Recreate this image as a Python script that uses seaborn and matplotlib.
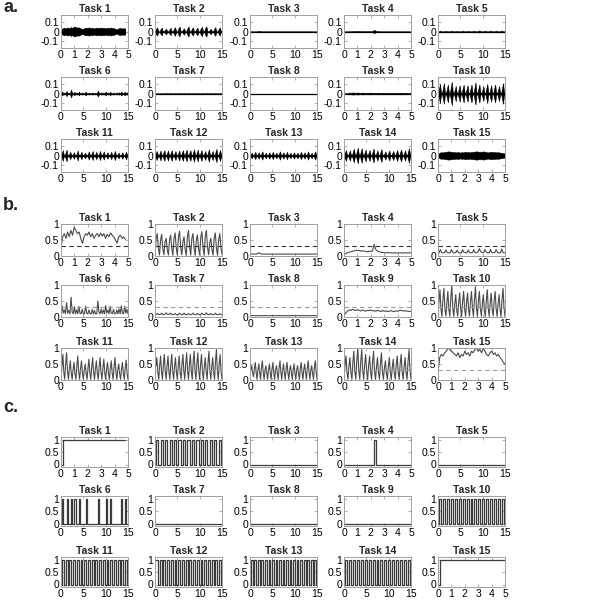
import numpy as np
import matplotlib
matplotlib.use("Agg")
import matplotlib.pyplot as plt
import seaborn as sns

sns.set_theme(style="white")
plt.rcParams['font.family'] = ['Liberation Sans', 'DejaVu Sans']

# ---------------- data ----------------
TASKS = [f"Task {i}" for i in range(1, 16)]
DURATION = [5, 15, 15, 5, 15, 15, 15, 15, 5, 15, 15, 15, 15, 15, 5]
END_TIME = [4.8, 15, 15, 5, 15, 15, 15, 15, 5, 15, 15, 15, 15, 15, 5]
THRESHOLD = [0.3] * 15

B1 = [0.25, 0.6, 0.7, 0.55, 0.75, 0.6, 0.8, 0.65, 0.9, 0.8, 0.7, 0.75, 0.55, 0.4, 0.6, 0.7, 0.65, 0.75, 0.6, 0.7,
      0.55, 0.65, 0.7, 0.6, 0.72, 0.62, 0.7, 0.55, 0.68, 0.6, 0.72, 0.65, 0.6, 0.5, 0.4, 0.6, 0.65, 0.55, 0.6, 0.52]
B2 = [0.05, 0.55, 0.7, 0.25, 0.03, 0.5, 0.68, 0.22, 0.04, 0.45, 0.55, 0.2, 0.03, 0.5, 0.65, 0.25, 0.02, 0.55, 0.72, 0.26,
      0.03, 0.6, 0.78, 0.25, 0.04, 0.45, 0.6, 0.2, 0.02, 0.6, 0.8, 0.28, 0.03, 0.55, 0.7, 0.25, 0.02, 0.5, 0.66, 0.22,
      0.03, 0.6, 0.76, 0.26, 0.02, 0.62, 0.8, 0.27, 0.04, 0.42, 0.55, 0.2, 0.03, 0.55, 0.72, 0.25, 0.02, 0.5, 0.7, 0.28, 0.05]
B3 = [0.06, 0.06, 0.06, 0.06, 0.1, 0.06, 0.06, 0.06, 0.06, 0.06, 0.06, 0.06, 0.06, 0.06, 0.06, 0.06,
      0.06, 0.06, 0.06, 0.06, 0.06, 0.06, 0.06, 0.06, 0.06, 0.06, 0.06, 0.06, 0.06, 0.06, 0.06]
B4 = [0.04, 0.08, 0.1, 0.12, 0.13, 0.15, 0.16, 0.17, 0.18, 0.17, 0.16, 0.15, 0.16, 0.14, 0.13, 0.15, 0.14, 0.16, 0.36, 0.2,
      0.15, 0.13, 0.12, 0.11, 0.1, 0.1, 0.11, 0.1, 0.1, 0.09, 0.1, 0.1, 0.09, 0.1, 0.1, 0.09, 0.1, 0.1, 0.09, 0.1, 0.1]
B5 = [0.08, 0.1, 0.2, 0.12, 0.1, 0.1, 0.11, 0.19, 0.12, 0.1, 0.1, 0.1, 0.2, 0.13, 0.1, 0.1, 0.11, 0.18, 0.12, 0.1,
      0.1, 0.1, 0.2, 0.12, 0.11, 0.1, 0.1, 0.19, 0.12, 0.1, 0.1, 0.11, 0.2, 0.12, 0.1, 0.11, 0.13, 0.23, 0.15, 0.12,
      0.1, 0.11, 0.2, 0.14, 0.1, 0.1, 0.1, 0.21, 0.12, 0.1, 0.1, 0.11, 0.2, 0.13, 0.1, 0.1, 0.1, 0.22, 0.12, 0.1, 0.1]
B6 = [0.05, 0.35, 0.12, 0.22, 0.1, 0.45, 0.12, 0.2, 0.1, 0.62, 0.15, 0.1, 0.32, 0.1, 0.22, 0.1, 0.33, 0.12, 0.1, 0.24,
      0.1, 0.1, 0.34, 0.12, 0.1, 0.22, 0.1, 0.1, 0.24, 0.1, 0.2, 0.1, 0.1, 0.5, 0.15, 0.1, 0.25, 0.1, 0.22, 0.1,
      0.36, 0.12, 0.22, 0.1, 0.33, 0.12, 0.1, 0.24, 0.1, 0.1, 0.22, 0.1, 0.25, 0.1, 0.35, 0.12, 0.1, 0.34, 0.12, 0.24, 0.1]
B7 = [0.05, 0.08, 0.11, 0.08, 0.07, 0.08, 0.12, 0.08, 0.07, 0.09, 0.13, 0.09, 0.08, 0.09, 0.12, 0.08, 0.07,
      0.08, 0.11, 0.08, 0.07, 0.08, 0.12, 0.09, 0.07, 0.08, 0.12, 0.08, 0.07, 0.08, 0.11, 0.08, 0.07,
      0.08, 0.12, 0.08, 0.07, 0.08, 0.11, 0.08, 0.07, 0.08, 0.12, 0.08, 0.07, 0.09, 0.13, 0.08, 0.07,
      0.08, 0.11, 0.08, 0.07, 0.08, 0.12, 0.08, 0.07, 0.08, 0.1, 0.08, 0.07]
B8 = [0.04, 0.045, 0.04, 0.04, 0.045, 0.04, 0.04, 0.045, 0.04, 0.04, 0.045, 0.04, 0.04, 0.045, 0.04, 0.04,
      0.045, 0.04, 0.04, 0.045, 0.04, 0.04, 0.045, 0.04, 0.04, 0.045, 0.04, 0.04, 0.045, 0.04, 0.04]
B9 = [0.05, 0.12, 0.18, 0.22, 0.2, 0.24, 0.22, 0.2, 0.23, 0.21, 0.19, 0.22, 0.2, 0.18, 0.21, 0.2, 0.22, 0.19, 0.2, 0.18,
      0.21, 0.19, 0.17, 0.2, 0.18, 0.19, 0.17, 0.18, 0.2, 0.18, 0.17, 0.19, 0.18, 0.2, 0.21, 0.19, 0.2, 0.18, 0.19, 0.17, 0.18]
B10 = [0.02, 0.5, 0.85, 0.25, 0.02, 0.55, 0.9, 0.27, 0.03, 0.45, 0.8, 0.24, 0.02, 0.6, 1.0, 0.28, 0.02, 0.4, 0.7, 0.22,
       0.03, 0.45, 0.75, 0.25, 0.02, 0.5, 0.8, 0.26, 0.02, 0.45, 0.75, 0.23, 0.03, 0.5, 0.8, 0.26, 0.02, 0.55, 0.95, 0.28,
       0.02, 0.5, 0.8, 0.25, 0.03, 0.4, 0.7, 0.22, 0.02, 0.5, 0.85, 0.27, 0.02, 0.45, 0.75, 0.24, 0.03, 0.5, 0.8, 0.26,
       0.02, 0.42, 0.7, 0.23, 0.02, 0.55, 0.9, 0.28, 0.02]
B11 = [0.03, 0.45, 0.8, 0.25, 0.02, 0.5, 0.85, 0.27, 0.02, 0.35, 0.6, 0.22, 0.02, 0.33, 0.55, 0.2, 0.02, 0.42, 0.75, 0.26,
       0.02, 0.35, 0.6, 0.22, 0.02, 0.32, 0.5, 0.2, 0.02, 0.38, 0.65, 0.24, 0.02, 0.4, 0.7, 0.25, 0.02, 0.35, 0.6, 0.22,
       0.02, 0.4, 0.7, 0.25, 0.02, 0.37, 0.65, 0.23, 0.02, 0.33, 0.55, 0.2, 0.02, 0.35, 0.6, 0.22, 0.02, 0.4, 0.7, 0.25,
       0.02, 0.32, 0.5, 0.2, 0.02, 0.33, 0.55, 0.21, 0.02, 0.36, 0.62, 0.22, 0.02]
B12 = [0.35, 0.45, 0.7, 0.25, 0.02, 0.45, 0.75, 0.26, 0.02, 0.5, 0.8, 0.27, 0.02, 0.45, 0.75, 0.25, 0.02, 0.5, 0.8, 0.27,
       0.02, 0.42, 0.7, 0.24, 0.02, 0.45, 0.75, 0.25, 0.02, 0.5, 0.8, 0.27, 0.02, 0.52, 0.85, 0.28, 0.02, 0.5, 0.8, 0.27,
       0.02, 0.55, 0.9, 0.28, 0.02, 0.52, 0.85, 0.28, 0.02, 0.5, 0.8, 0.27, 0.02, 0.42, 0.7, 0.24, 0.02, 0.55, 0.9, 0.28,
       0.02, 0.42, 0.7, 0.24, 0.02, 0.58, 0.95, 0.29, 0.02, 0.5, 0.8, 0.27, 0.02]
B13 = [0.2, 0.32, 0.45, 0.22, 0.1, 0.35, 0.55, 0.23, 0.02, 0.32, 0.5, 0.22, 0.02, 0.38, 0.6, 0.25, 0.02, 0.31, 0.45, 0.2,
       0.02, 0.32, 0.5, 0.22, 0.02, 0.35, 0.55, 0.23, 0.02, 0.31, 0.45, 0.2, 0.02, 0.38, 0.6, 0.25, 0.02, 0.32, 0.5, 0.22,
       0.02, 0.35, 0.55, 0.23, 0.02, 0.31, 0.45, 0.2, 0.02, 0.32, 0.5, 0.22, 0.02, 0.31, 0.45, 0.2, 0.02, 0.35, 0.55, 0.23,
       0.02, 0.32, 0.5, 0.22, 0.02, 0.38, 0.6, 0.25, 0.02, 0.31, 0.45, 0.2, 0.02, 0.38, 0.6, 0.25, 0.02]
B14 = [0.02, 0.45, 0.75, 0.25, 0.02, 0.42, 0.7, 0.24, 0.02, 0.55, 0.9, 0.27, 0.02, 0.6, 1.0, 0.28, 0.02, 0.58, 0.95, 0.28,
       0.02, 0.5, 0.8, 0.26, 0.02, 0.45, 0.75, 0.25, 0.02, 0.55, 0.9, 0.27, 0.02, 0.42, 0.7, 0.24, 0.02, 0.52, 0.85, 0.26,
       0.02, 0.36, 0.6, 0.22, 0.02, 0.42, 0.7, 0.24, 0.02, 0.4, 0.65, 0.23, 0.02, 0.45, 0.75, 0.25, 0.02, 0.5, 0.8, 0.26,
       0.02, 0.42, 0.7, 0.24, 0.02, 0.58, 0.95, 0.28, 0.02]
B15 = [0.25, 0.7, 0.8, 0.75, 0.85, 0.9, 1.0, 0.95, 0.9, 0.85, 0.8, 0.75, 0.85, 0.7, 0.8, 0.75, 0.9, 0.8, 0.85, 0.75,
       0.9, 0.85, 0.95, 1.0, 0.9, 0.95, 0.85, 1.0, 0.9, 0.8, 0.75, 0.85, 0.9, 0.8, 0.85, 0.75, 0.8, 0.7, 0.65, 0.55, 0.5]
B_SERIES = [B1, B2, B3, B4, B5, B6, B7, B8, B9, B10, B11, B12, B13, B14, B15]

# raw-signal envelope (panel a) = gain * max(b - floor, 0)
A_GAIN = [0.06, 0.1, 0.2, 0.07, 0.12, 0.08, 0.12, 0.0, 0.08, 0.15, 0.09, 0.09, 0.1, 0.1, 0.045]
A_FLOOR = [0.0, 0.25, 0.06, 0.1, 0.12, 0.08, 0.08, 1.0, 0.1, 0.15, 0.15, 0.15, 0.15, 0.15, 0.0]

# ---------------- layout ----------------
W, H = 600, 612
LEFTS = [61, 155, 250, 344, 438]
AX_W = 67
ROWS = {"a": ([15, 77, 139], 33), "b": ([224, 285, 348], 32), "c": ([437, 496, 557], 30)}
LABEL_Y = {"a": 8, "b": 206, "c": 407}
EDGE = "#a0a0a0"

fig = plt.figure(figsize=(W / 100, H / 100), dpi=100)


def make_ax(panel, k):
    tops, h = ROWS[panel]
    r, c = divmod(k, 5)
    ax = fig.add_axes([LEFTS[c] / W, 1 - (tops[r] + h) / H, AX_W / W, h / H])
    for s in ax.spines.values():
        s.set_color(EDGE)
        s.set_linewidth(0.7)
        s.set_visible(True)
    ax.set_facecolor("white")
    ax.tick_params(direction="in", length=2, width=0.6, color=EDGE, labelsize=7.5,
                   labelcolor="black", pad=1.5, top=True, right=True, bottom=True, left=True)
    dur = DURATION[k]
    ax.set_xlim(0, dur)
    ax.set_xticks(list(range(0, 6)) if dur == 5 else [0, 5, 10, 15])
    ax.set_xticklabels([str(v) for v in (range(0, 6) if dur == 5 else [0, 5, 10, 15])])
    ax.set_title(TASKS[k], fontsize=7.5, fontweight="bold", pad=2)
    ax.grid(False)
    return ax


for k in range(15):
    b = np.array(B_SERIES[k], dtype=float)
    t = np.linspace(0, END_TIME[k], len(b))

    # panel a
    ax = make_ax("a", k)
    env = A_GAIN[k] * np.clip(b - A_FLOOR[k], 0, None)
    ax.fill_between(t, -env, env, color="black", linewidth=0.4, edgecolor="black")
    ax.plot([0, END_TIME[k]], [0, 0], color="black", linewidth=0.9)
    ax.set_ylim(-0.18, 0.18)
    ax.set_yticks([-0.1, 0, 0.1])
    ax.set_yticklabels(["-0.1", "0", "0.1"])

    # panel b
    ax = make_ax("b", k)
    sns.lineplot(x=t, y=b, ax=ax, color="#4a4a4a", linewidth=0.8)
    dash_col = "#333333" if k < 5 else "#9a9a9a"
    ax.axhline(THRESHOLD[k], color=dash_col, linestyle=(0, (4, 3)), linewidth=0.8)
    ax.set_ylim(0, 1)
    ax.set_yticks([0, 0.5, 1])
    ax.set_yticklabels(["0", "0.5", "1"])

    # panel c
    ax = make_ax("c", k)
    on = (b > THRESHOLD[k]).astype(float)
    sns.lineplot(x=t, y=on, ax=ax, color="#3a3a3a", linewidth=0.9, drawstyle="steps-post")
    ax.set_ylim(-0.1, 1.1)
    ax.set_yticks([0, 0.5, 1])
    ax.set_yticklabels(["0", "0.5", "1"])

for p in ["a", "b", "c"]:
    fig.text(3 / W, 1 - LABEL_Y[p] / H, p + ".", fontsize=13, fontweight="bold", va="center", ha="left")

fig.savefig("out.png", dpi=100, facecolor="white")
